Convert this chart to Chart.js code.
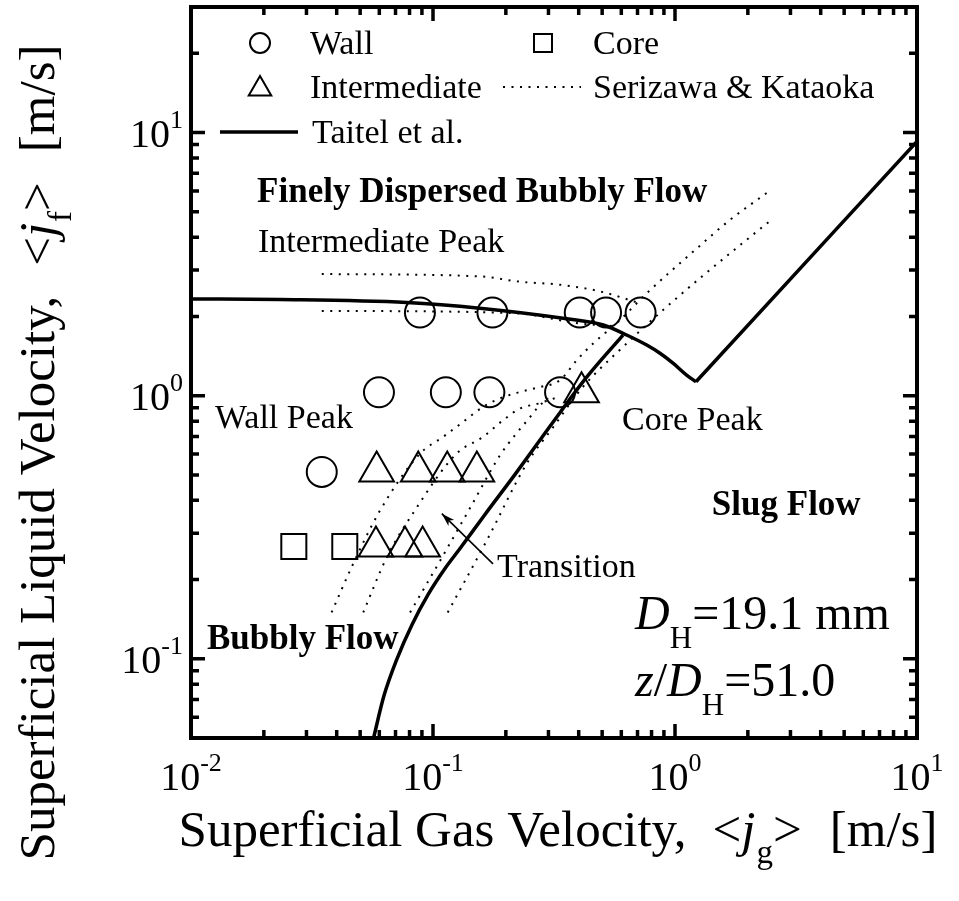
<!DOCTYPE html>
<html>
<head>
<meta charset="utf-8">
<script src="https://cdn.jsdelivr.net/npm/chart.js@4/dist/chart.umd.min.js"></script>
<style>
  html, body { margin: 0; padding: 0; background: #fff; }
  #wrap { width: 959px; height: 901px; }
</style>
</head>
<body>
<div id="wrap"><canvas id="map" width="959" height="901"></canvas></div>
<script>
// ---- measured points: superficial gas / liquid velocity [m/s] ----
const wallJg = [0.0883, 0.176, 0.404, 0.519, 0.721, 0.0598, 0.113, 0.171, 0.335, 0.0347];
const wallJf = [2.07, 2.07, 2.07, 2.07, 2.07, 1.03, 1.03, 1.03, 1.03, 0.513];

const interJg = [0.411, 0.0585, 0.0869, 0.1145, 0.1518, 0.0581, 0.0766, 0.0906];
const interJf = [1.03, 0.515, 0.515, 0.515, 0.515, 0.267, 0.267, 0.267];

const coreJg = [0.0266, 0.0432];
const coreJf = [0.267, 0.267];

// ---- Taitel et al. transition boundaries ----
const taitelUpperJg = [0.01, 0.0233, 0.0778, 0.156, 0.357, 0.506, 0.631, 0.764, 0.867, 0.984, 1.117, 1.221];
const taitelUpperJf = [2.33, 2.32, 2.26, 2.15, 1.96, 1.856, 1.70, 1.557, 1.449, 1.326, 1.197, 1.129];
const taitelSlugJg = [1.221, 10];
const taitelSlugJf = [1.129, 9.25];
const taitelBubblyJg = [0.0568, 0.0627, 0.0710, 0.0819, 0.0954, 0.1121, 0.1293, 0.1640, 0.2183, 0.3044, 0.4315, 0.6096];
const taitelBubblyJf = [0.05, 0.0723, 0.1, 0.1348, 0.1753, 0.2203, 0.2624, 0.3537, 0.5023, 0.7652, 1.176, 1.700];

// ---- Serizawa & Kataoka phase-distribution boundaries ----
const skUpperJg = [0.0347, 0.156, 0.229, 0.335, 0.49, 0.70];
const skUpperJf = [2.90, 2.84, 2.71, 2.64, 2.49, 2.26];
const skLowerJg = [0.0347, 0.215, 0.405, 0.55];
const skLowerJf = [2.10, 2.06, 1.88, 1.84];
const skWallJg = [0.0381, 0.0461, 0.0604, 0.0883, 0.110, 0.133, 0.161, 0.189, 0.222, 0.268, 0.335, 0.393, 0.467, 0.574, 0.764, 1.19, 1.69, 2.39];
const skWallJf = [0.150, 0.223, 0.366, 0.602, 0.697, 0.794, 0.906, 0.976, 1.025, 1.071, 1.146, 1.365, 1.603, 1.884, 2.45, 3.53, 4.66, 5.89];
const skTransAJg = [0.0515, 0.0644, 0.0839, 0.125, 0.161, 0.195, 0.229, 0.272, 0.319];
const skTransAJf = [0.150, 0.243, 0.365, 0.602, 0.697, 0.807, 0.894, 0.933, 0.978];
const skTransBJg = [0.0804, 0.107, 0.142, 0.189, 0.218, 0.252, 0.272, 0.299];
const skTransBJf = [0.150, 0.236, 0.373, 0.593, 0.707, 0.830, 0.906, 0.978];
const skCoreJg = [0.115, 0.167, 0.244, 0.314, 0.411, 0.621, 0.895, 1.27, 2.55];
const skCoreJf = [0.150, 0.282, 0.552, 0.760, 1.065, 1.557, 2.12, 2.80, 4.73];

// ---- axes ----
const jgMin = 0.01, jgMax = 10;
const jfMin = 0.05, jfMax = 30;
const xTickExponents = [-2, -1, 0, 1];
const yTickExponents = [-1, 0, 1];

// ---- region labels anchored in data space [jg, jf] ----
const regionLabels = [
  { text: 'Finely Dispersed Bubbly Flow', at: [0.01875, 5.46], bold: true },
  { text: 'Intermediate Peak', at: [0.0189, 3.52] },
  { text: 'Wall Peak', at: [0.01256, 0.752] },
  { text: 'Core Peak', at: [0.604, 0.740] },
  { text: 'Slug Flow', at: [1.42, 0.351], bold: true },
  { text: 'Transition', at: [0.184, 0.204] },
  { text: 'Bubbly Flow', at: [0.01164, 0.109], bold: true }
];
const arrowFrom = [0.177, 0.2296];
const arrowTo = [0.1087, 0.356];
const conditionAnchor = [0.684, 0.130];
const conditionAnchor2 = [0.684, 0.0723];

const FONT = '"Liberation Serif", "Times New Roman", serif';

function pts(xs, ys) { return xs.map((x, i) => ({ x: x, y: ys[i] })); }

function fontOf(s) {
  return (s.italic ? 'italic ' : '') + (s.bold ? 'bold ' : '') + s.size + 'px ' + FONT;
}

// draws a run of text pieces (with sub/superscripts) horizontally
function drawRich(ctx, segs, x, y, align) {
  let total = 0;
  segs.forEach(s => { ctx.font = fontOf(s); s.w = ctx.measureText(s.t).width; total += s.w + (s.gap || 0); });
  let cx = align === 'center' ? x - total / 2 : (align === 'right' ? x - total : x);
  ctx.textAlign = 'left';
  ctx.textBaseline = 'alphabetic';
  segs.forEach(s => {
    ctx.font = fontOf(s);
    ctx.fillText(s.t, cx, y + (s.dy || 0));
    cx += s.w + (s.gap || 0);
  });
  return total;
}

function markCircle(ctx, x, y, r) { ctx.beginPath(); ctx.arc(x, y, r, 0, Math.PI * 2); ctx.stroke(); }
function markTriangle(ctx, x, y, r) {
  ctx.beginPath();
  for (let k = 0; k < 3; k++) {
    const a = k * 2 * Math.PI / 3;
    const px = x + Math.sin(a) * r, py = y - Math.cos(a) * r;
    if (k === 0) ctx.moveTo(px, py); else ctx.lineTo(px, py);
  }
  ctx.closePath(); ctx.stroke();
}
function markSquare(ctx, x, y, half) { ctx.strokeRect(x - half, y - half, half * 2, half * 2); }

const framePlugin = {
  id: 'frameAndText',
  afterDraw(chart) {
    const ctx = chart.ctx;
    const a = chart.chartArea;
    const xs = chart.scales.x, ys = chart.scales.y;
    ctx.save();
    ctx.strokeStyle = '#000';
    ctx.fillStyle = '#000';
    ctx.lineCap = 'butt';

    // inward ticks on all four sides
    ctx.lineWidth = 3.5;
    const majorLen = 14, minorLen = 8;
    for (let d = -3; d <= 2; d++) {
      for (let m = 1; m <= 9; m++) {
        const v = m * Math.pow(10, d);
        const len = m === 1 ? majorLen : minorLen;
        if (v >= jgMin * 0.999 && v <= jgMax * 1.001) {
          const px = xs.getPixelForValue(v);
          ctx.beginPath();
          ctx.moveTo(px, a.bottom); ctx.lineTo(px, a.bottom - len);
          ctx.moveTo(px, a.top); ctx.lineTo(px, a.top + len);
          ctx.stroke();
        }
        if (v >= jfMin * 0.999 && v <= jfMax * 1.001) {
          const py = ys.getPixelForValue(v);
          ctx.beginPath();
          ctx.moveTo(a.left, py); ctx.lineTo(a.left + len, py);
          ctx.moveTo(a.right, py); ctx.lineTo(a.right - len, py);
          ctx.stroke();
        }
      }
    }
    // frame
    ctx.lineWidth = 4;
    ctx.strokeRect(a.left, a.top, a.right - a.left, a.bottom - a.top);

    // tick labels
    xTickExponents.forEach(e => {
      const px = xs.getPixelForValue(Math.pow(10, e));
      drawRich(ctx, [
        { t: '10', size: 40 },
        { t: String(e), size: 26, dy: -19 }
      ], px, a.bottom + 52, 'center');
    });
    yTickExponents.forEach(e => {
      const py = ys.getPixelForValue(Math.pow(10, e));
      drawRich(ctx, [
        { t: '10', size: 40 },
        { t: String(e), size: 26, dy: -19 }
      ], a.left - 8, py + 14, 'right');
    });

    // axis titles
    drawRich(ctx, [
      { t: 'Superficial Gas Velocity,', size: 51, gap: 26 },
      { t: '<', size: 51 },
      { t: 'j', size: 51, italic: true, gap: 1 },
      { t: 'g', size: 33, dy: 17 },
      { t: '>', size: 51, gap: 28 },
      { t: '[m/s]', size: 51 }
    ], (a.left + a.right) / 2 + 4, a.bottom + 108, 'center');

    ctx.save();
    ctx.translate(54, (a.top + a.bottom) / 2 + 80);
    ctx.rotate(-Math.PI / 2);
    drawRich(ctx, [
      { t: 'Superficial Liquid Velocity,', size: 51, gap: 30 },
      { t: '<', size: 51 },
      { t: 'j', size: 51, italic: true, gap: 1 },
      { t: 'f', size: 33, dy: 17 },
      { t: '>', size: 51, gap: 30 },
      { t: '[m/s]', size: 51 }
    ], 0, 0, 'center');
    ctx.restore();

    // legend
    const L = a.left, T = a.top;
    ctx.lineWidth = 2;
    markCircle(ctx, L + 69, T + 36, 10);
    markTriangle(ctx, L + 69, T + 82, 13);
    markSquare(ctx, L + 352, T + 36, 9);
    ctx.lineWidth = 3.5;
    ctx.beginPath(); ctx.moveTo(L + 29, T + 125); ctx.lineTo(L + 107, T + 125); ctx.stroke();
    ctx.lineWidth = 2;
    ctx.setLineDash([2, 6.5]);
    ctx.beginPath(); ctx.moveTo(L + 312, T + 80); ctx.lineTo(L + 390, T + 80); ctx.stroke();
    ctx.setLineDash([]);
    const lf = 34;
    drawRich(ctx, [{ t: 'Wall', size: lf }], L + 119, T + 47, 'left');
    drawRich(ctx, [{ t: 'Intermediate', size: lf }], L + 119, T + 91, 'left');
    drawRich(ctx, [{ t: 'Taitel et al.', size: lf }], L + 121, T + 136, 'left');
    drawRich(ctx, [{ t: 'Core', size: lf }], L + 402, T + 47, 'left');
    drawRich(ctx, [{ t: 'Serizawa & Kataoka', size: lf }], L + 402, T + 91, 'left');

    // region labels
    regionLabels.forEach(r => {
      drawRich(ctx, [{ t: r.text, size: r.bold ? 35 : 34, bold: !!r.bold }],
        xs.getPixelForValue(r.at[0]), ys.getPixelForValue(r.at[1]), 'left');
    });

    // arrow to the transition band
    const ax0 = xs.getPixelForValue(arrowFrom[0]), ay0 = ys.getPixelForValue(arrowFrom[1]);
    const ax1 = xs.getPixelForValue(arrowTo[0]), ay1 = ys.getPixelForValue(arrowTo[1]);
    ctx.lineWidth = 1.6;
    ctx.beginPath(); ctx.moveTo(ax0, ay0); ctx.lineTo(ax1, ay1); ctx.stroke();
    const ang = Math.atan2(ay1 - ay0, ax1 - ax0);
    const hl = 14, hw = 0.3;
    ctx.beginPath();
    ctx.moveTo(ax1, ay1);
    ctx.lineTo(ax1 - hl * Math.cos(ang - hw), ay1 - hl * Math.sin(ang - hw));
    ctx.lineTo(ax1 - hl * 0.7 * Math.cos(ang), ay1 - hl * 0.7 * Math.sin(ang));
    ctx.lineTo(ax1 - hl * Math.cos(ang + hw), ay1 - hl * Math.sin(ang + hw));
    ctx.closePath(); ctx.fill();

    // test-section conditions
    const cx = xs.getPixelForValue(conditionAnchor[0]);
    drawRich(ctx, [
      { t: 'D', size: 48, italic: true },
      { t: 'H', size: 31, dy: 19 },
      { t: '=19.1 mm', size: 48 }
    ], cx, ys.getPixelForValue(conditionAnchor[1]), 'left');
    drawRich(ctx, [
      { t: 'z', size: 48, italic: true },
      { t: '/', size: 48 },
      { t: 'D', size: 48, italic: true },
      { t: 'H', size: 31, dy: 19 },
      { t: '=51.0', size: 48 }
    ], cx, ys.getPixelForValue(conditionAnchor2[1]), 'left');

    ctx.restore();
  }
};

const dotted = { borderColor: '#000', borderWidth: 2, borderDash: [2, 6.5], pointRadius: 0, showLine: true, fill: false, cubicInterpolationMode: 'monotone' };
const solid = { borderColor: '#000', borderWidth: 3.5, pointRadius: 0, showLine: true, fill: false, cubicInterpolationMode: 'monotone' };
const marker = { borderColor: '#000', backgroundColor: 'rgba(0,0,0,0)', borderWidth: 2, showLine: false };

new Chart(document.getElementById('map'), {
  type: 'scatter',
  data: {
    datasets: [
      Object.assign({ label: 'S&K upper', data: pts(skUpperJg, skUpperJf) }, dotted),
      Object.assign({ label: 'S&K lower', data: pts(skLowerJg, skLowerJf) }, dotted),
      Object.assign({ label: 'S&K wall', data: pts(skWallJg, skWallJf) }, dotted),
      Object.assign({ label: 'S&K transition A', data: pts(skTransAJg, skTransAJf) }, dotted),
      Object.assign({ label: 'S&K transition B', data: pts(skTransBJg, skTransBJf) }, dotted),
      Object.assign({ label: 'S&K core', data: pts(skCoreJg, skCoreJf) }, dotted),
      Object.assign({ label: 'Taitel upper', data: pts(taitelUpperJg, taitelUpperJf) }, solid),
      Object.assign({ label: 'Taitel slug', data: pts(taitelSlugJg, taitelSlugJf) }, solid),
      Object.assign({ label: 'Taitel bubbly', data: pts(taitelBubblyJg, taitelBubblyJf) }, solid),
      Object.assign({ label: 'Wall', data: pts(wallJg, wallJf), pointStyle: 'circle', pointRadius: 15 }, marker),
      Object.assign({ label: 'Intermediate', data: pts(interJg, interJf), pointStyle: 'triangle', pointRadius: 20 }, marker),
      Object.assign({ label: 'Core', data: pts(coreJg, coreJf), pointStyle: 'rect', pointRadius: 17.7 }, marker)
    ]
  },
  options: {
    responsive: false,
    animation: false,
    events: [],
    layout: { autoPadding: false, padding: { left: 191, right: 42, top: 7, bottom: 163 } },
    plugins: { legend: { display: false }, tooltip: { enabled: false } },
    scales: {
      x: { type: 'logarithmic', min: jgMin, max: jgMax, display: false },
      y: { type: 'logarithmic', min: jfMin, max: jfMax, display: false }
    }
  },
  plugins: [framePlugin]
});
</script>
</body>
</html>
